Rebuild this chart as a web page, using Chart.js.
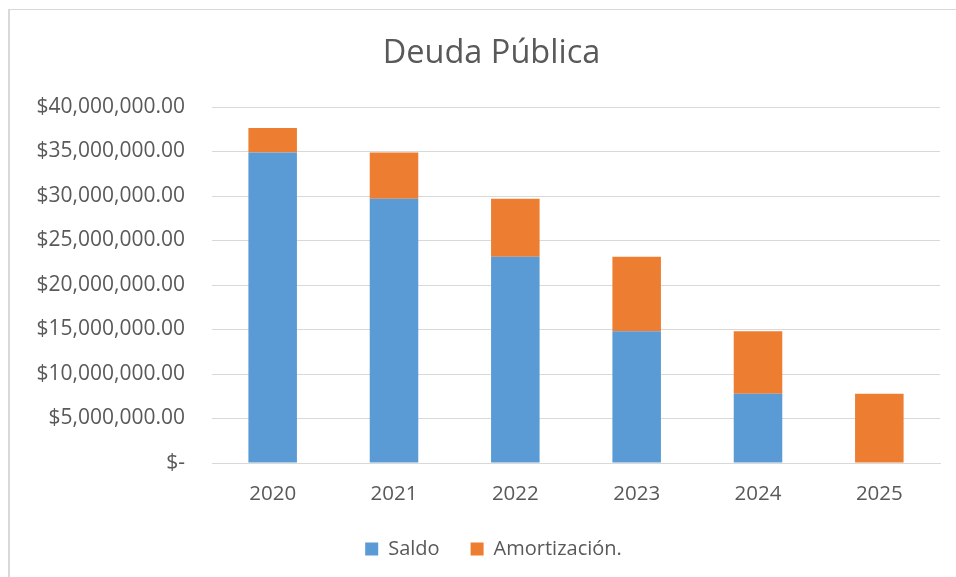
<!DOCTYPE html>
<html>
<head>
<meta charset="utf-8">
<script src="https://cdn.jsdelivr.net/npm/chart.js@4.4.0/dist/chart.umd.min.js"></script>
<style>
  html, body { margin: 0; padding: 0; background: #fff; overflow: hidden; width: 956px; height: 577px; }
  #frame { position: absolute; left: 8px; top: 9px; width: 966px; height: 580px;
           border-left: 2px solid #d9d9d9; border-top: 1px solid #d9d9d9; box-sizing: border-box; }
  #wrap { position: absolute; left: 9px; top: 9px; width: 964px; height: 568px; }
</style>
</head>
<body>
<div id="frame"></div>
<div id="wrap"><canvas id="c" width="964" height="568"></canvas></div>
<script>
const categories = ["2020", "2021", "2022", "2023", "2024", "2025"];
const saldo = [34900000, 29680000, 23170000, 14790000, 7790000, 0];
const amortizacion = [2750000, 5220000, 6510000, 8380000, 7000000, 7790000];
const yTickLabels = ["$-", "$5,000,000.00", "$10,000,000.00", "$15,000,000.00", "$20,000,000.00",
                     "$25,000,000.00", "$30,000,000.00", "$35,000,000.00", "$40,000,000.00"];
const seriesNames = ["Saldo", "Amortización."];
const chartTitle = "Deuda Pública";

const txt = "#595959";
const fam = "'Open Sans', sans-serif";

// Shift title and legend to match the frame's centre (frame extends past the right edge).
const centreShift = {
  id: "centreShift",
  afterLayout(chart) {
    if (chart.titleBlock) { chart.titleBlock.left += 17; chart.titleBlock.right += 17; }
    if (chart.legend) { chart.legend.left += 19; chart.legend.right += 19; }
  }
};

new Chart(document.getElementById("c"), {
  type: "bar",
  data: {
    labels: categories,
    datasets: [
      { label: seriesNames[0], data: saldo, backgroundColor: "#5B9BD5", barPercentage: 0.4, categoryPercentage: 1 },
      { label: seriesNames[1], data: amortizacion, backgroundColor: "#ED7D31", barPercentage: 0.4, categoryPercentage: 1 }
    ]
  },
  plugins: [centreShift],
  options: {
    responsive: false,
    animation: false,
    layout: { padding: { left: 0, right: 33, top: 0, bottom: 8 } },
    plugins: {
      title: { display: true, text: chartTitle, color: txt, font: { family: fam, size: 32.5, weight: "normal" },
               padding: { top: 25, bottom: 34 } },
      legend: { position: "bottom",
                labels: { color: txt, font: { family: fam, size: 20 }, boxWidth: 13, boxHeight: 13, padding: 31 } },
      tooltip: { enabled: false }
    },
    scales: {
      x: {
        stacked: true,
        afterFit: (s) => { s.height = 45; },
        grid: { display: false, drawTicks: false },
        border: { display: true, color: "#d9d9d9", width: 1 },
        ticks: { color: txt, font: { family: fam, size: 20.5 }, padding: 19 }
      },
      y: {
        stacked: true,
        min: 0, max: 40000000,
        afterFit: (s) => { s.width = 203; },
        grid: { color: "#d9d9d9", lineWidth: 1, drawTicks: false },
        border: { display: false },
        ticks: { stepSize: 5000000, color: txt, font: { family: fam, size: 21 }, padding: 27,
                 callback: (v) => yTickLabels[Math.round(v / 5000000)] }
      }
    }
  }
});
</script>
</body>
</html>
